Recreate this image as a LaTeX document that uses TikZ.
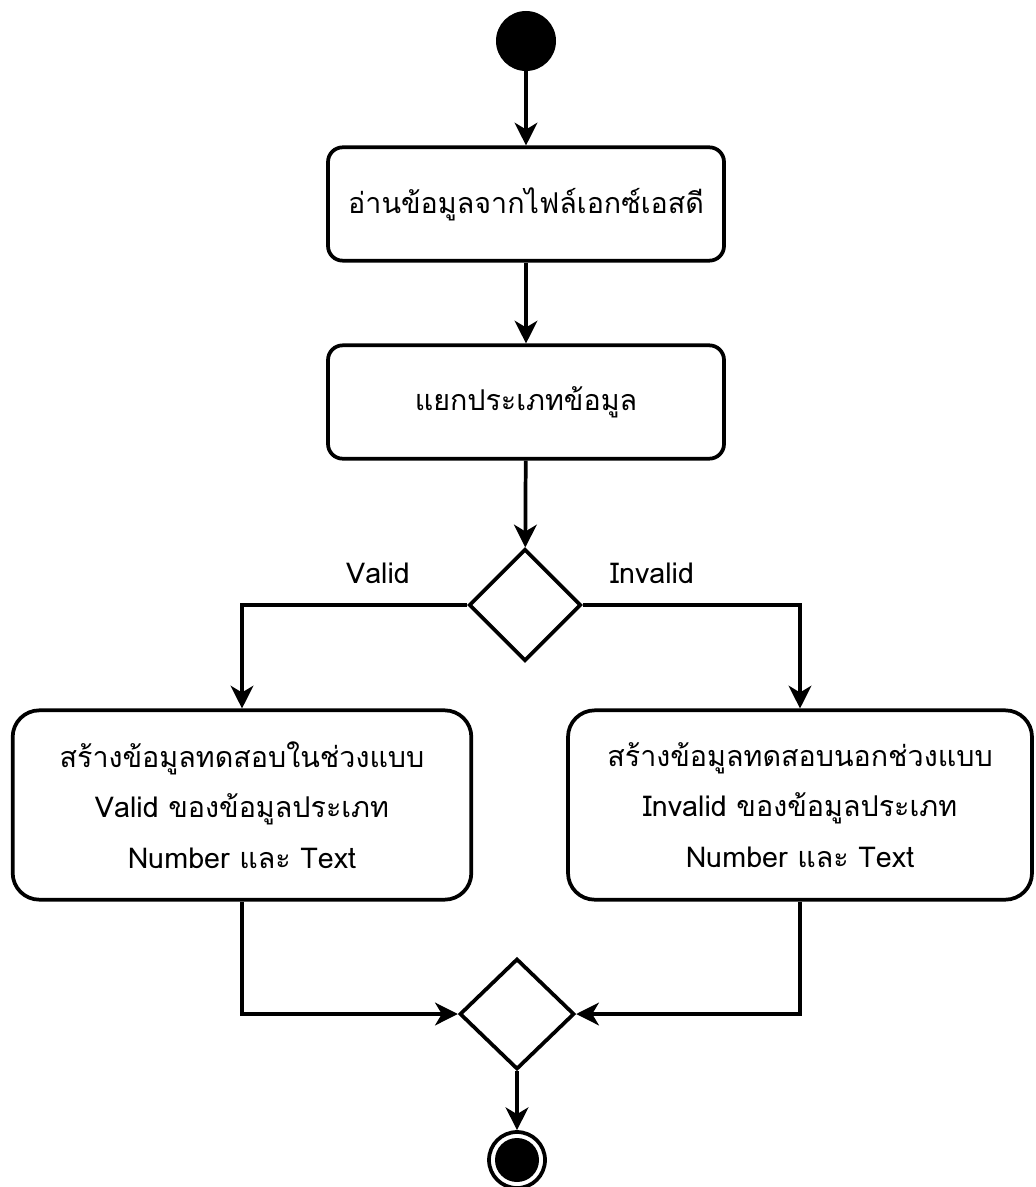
\documentclass[tikz,border=0pt]{standalone}
\usepackage{fontspec}
\newfontfamily\thaifont[Script=Thai]{Loma}
\usetikzlibrary{shapes.geometric,arrows.meta}
\begin{document}
\begin{tikzpicture}[x=0.75pt,y=-0.75pt,font=\thaifont\fontsize{21.5}{38}\selectfont]
  \tikzset{
    act/.style={rounded corners=11pt,draw,line width=2.8pt,minimum width=297pt,minimum height=85pt,
                align=center},
    bigact/.style={act,rounded corners=20pt,minimum width=344pt,minimum height=142pt},
    dec/.style={diamond,draw,line width=2.8pt,minimum width=84pt,minimum height=84pt,inner sep=0pt},
    ar/.style={-{Stealth[length=17pt,width=17pt,inset=5pt]},line width=2.8pt}
  }
  \useasboundingbox (0,0) rectangle (1035,1187);

  \node[circle,fill,minimum size=45pt,inner sep=0pt] (start) at (526,41) {};
  \node[act] (read) at (526,204) {อ่านข้อมูลจากไฟล์เอกซ์เอสดี};
  \node[act] (split) at (526,402) {แยกประเภทข้อมูล};
  \node[dec] (check) at (525,605) {};
  \node (lvalid) at (378,573) {Valid};
  \node (linvalid) at (652,573) {Invalid};

  \node[bigact] (valid) at (242,805) {สร้างข้อมูลทดสอบในช่วงแบบ\\
                                      Valid ของข้อมูลประเภท\\
                                      Number และ Text};
  \node[bigact,minimum width=348pt] (invalid) at (800,805) {สร้างข้อมูลทดสอบนอกช่วงแบบ\\
                                      Invalid ของข้อมูลประเภท\\
                                      Number และ Text};

  \node[dec,minimum width=86pt,minimum height=83pt] (merge) at (517,1014) {};
  \node[circle,draw,line width=2.8pt,minimum size=42pt,inner sep=0pt] (stop) at (517,1160) {};
  \node[circle,fill,minimum size=33pt,inner sep=0pt] (stopdot) at (stop) {};

  \draw[ar] (start) -- (read);
  \draw[ar] (read) -- (split);
  \draw[ar] (split) -- (check);
  \draw[ar] (check.west) -| (valid.north);
  \draw[ar] (check.east) -| (invalid.north);
  \draw[ar] (valid.south) |- (merge.west);
  \draw[ar] (invalid.south) |- (merge.east);
  \draw[ar] (merge) -- (stop);
\end{tikzpicture}
\end{document}
